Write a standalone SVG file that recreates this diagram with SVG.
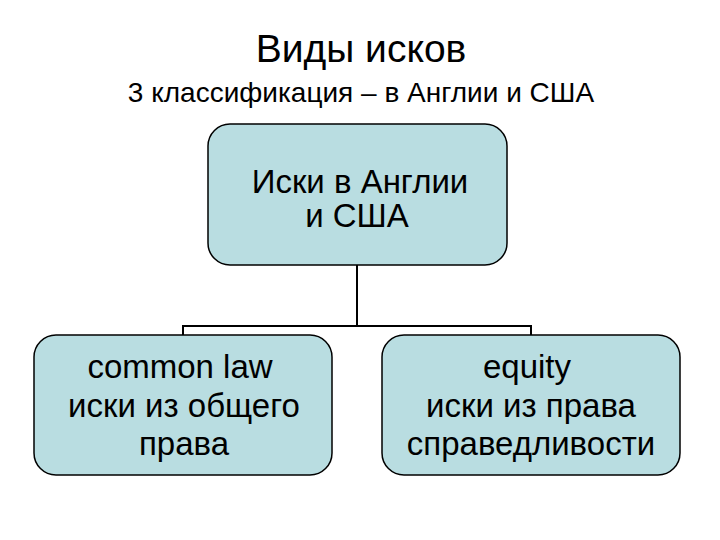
<svg xmlns="http://www.w3.org/2000/svg" width="720" height="540" viewBox="0 0 720 540">
<style>
.box{fill:#b9dde1;stroke:#000;stroke-width:1.5}
.t{font-family:"Liberation Sans",Arial,sans-serif;fill:#000;text-anchor:middle}
.c{fill:none;stroke:#000;stroke-width:2}
</style>
<rect width="720" height="540" fill="#fff"/>
<text class="t" x="361" y="62" font-size="39">Виды исков</text>
<text class="t" x="361" y="102" font-size="28">3 классификация – в Англии и США</text>
<g id="connectors">
<path class="c" d="M357 265 V326 M183 335 V326 H531 V335"/>
</g>
<g id="top">
<rect class="box" x="208" y="124" width="299" height="141" rx="22"/>
<text class="t" x="360" y="193" font-size="33">Иски в Англии</text>
<text class="t" x="357" y="227" font-size="33">и США</text>
</g>
<g id="left">
<rect class="box" x="34" y="335" width="298" height="140" rx="22"/>
<text class="t" x="180" y="378" font-size="33">common law</text>
<text class="t" x="184" y="417" font-size="33">иски из общего</text>
<text class="t" x="184" y="455" font-size="33">права</text>
</g>
<g id="right">
<rect class="box" x="382" y="335" width="298" height="140" rx="22"/>
<text class="t" x="527" y="378" font-size="33">equity</text>
<text class="t" x="531" y="417" font-size="33">иски из права</text>
<text class="t" x="531" y="455" font-size="33">справедливости</text>
</g>
</svg>
